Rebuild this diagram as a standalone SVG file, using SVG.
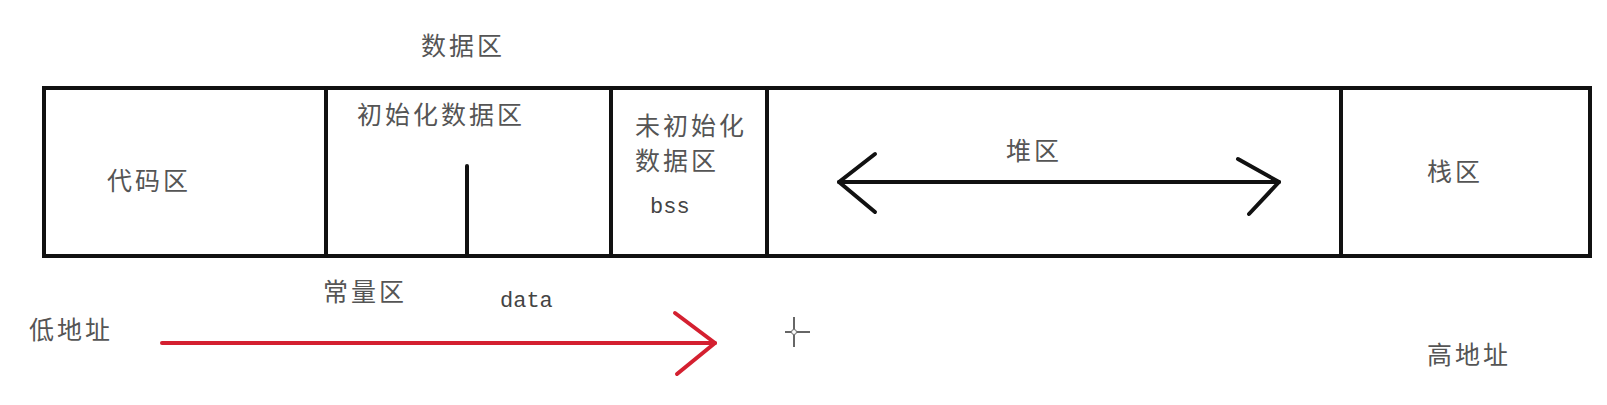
<svg xmlns="http://www.w3.org/2000/svg" width="1607" height="405" viewBox="0 0 1607 405">
<style>
.t{font-family:"Noto Sans CJK SC","Noto Sans",sans-serif;font-size:25px;fill:#555;letter-spacing:3px}
.m{font-family:"Liberation Mono","DejaVu Sans Mono",monospace;font-size:22px;fill:#444}
.box{fill:none;stroke:#111;stroke-width:4}
.ln{stroke:#111;stroke-width:4;fill:none;stroke-linecap:round;stroke-linejoin:round}
.red{stroke:#d42030;stroke-width:4;fill:none;stroke-linecap:round;stroke-linejoin:round}
</style>
<rect width="1607" height="405" fill="#fff"/>
<g id="memory">
  <rect class="box" x="44" y="88" width="1546" height="168"/>
</g>
<g id="code">
  <text class="t" x="107" y="190">代码区</text>
</g>
<g id="data-label">
  <text class="t" x="421" y="55">数据区</text>
</g>
<g id="init-data">
  <line class="ln" x1="326" y1="88" x2="326" y2="256"/>
  <text class="t" x="357" y="124">初始化数据区</text>
  <line class="ln" x1="467" y1="166" x2="467" y2="256"/>
</g>
<g id="bss">
  <line class="ln" x1="611" y1="88" x2="611" y2="256"/>
  <text class="t" x="635" y="135">未初始化</text>
  <text class="t" x="635" y="170">数据区</text>
  <text class="m" x="650" y="213">bss</text>
</g>
<g id="heap">
  <line class="ln" x1="767" y1="88" x2="767" y2="256"/>
  <text class="t" x="1006" y="160">堆区</text>
</g>
<g id="stack">
  <line class="ln" x1="1341" y1="88" x2="1341" y2="256"/>
  <text class="t" x="1427" y="181">栈区</text>
</g>
<g id="labels">
  <text class="t" x="323" y="301">常量区</text>
  <text class="m" x="500" y="307">data</text>
  <text class="t" x="29" y="339">低地址</text>
  <text class="t" x="1427" y="364">高地址</text>
</g>
<g id="connectors">
  <line class="ln" x1="839" y1="182" x2="1279" y2="182"/>
  <polyline class="ln" points="875,154 839,182 875,212"/>
  <polyline class="ln" points="1238,159 1279,182 1249,214"/>
  <line class="red" x1="162" y1="343" x2="715" y2="343"/>
  <polyline class="red" points="675,313 715,343 677,374"/>
</g>
<g id="cursor" stroke="#666" stroke-width="2" fill="none">
  <line x1="794" y1="317" x2="794" y2="329"/>
  <line x1="794" y1="335" x2="794" y2="347"/>
  <line x1="785" y1="332" x2="791" y2="332"/>
  <line x1="797" y1="332" x2="810" y2="332"/>
  <circle cx="794" cy="332" r="2.5" stroke-width="1"/>
</g>
</svg>
